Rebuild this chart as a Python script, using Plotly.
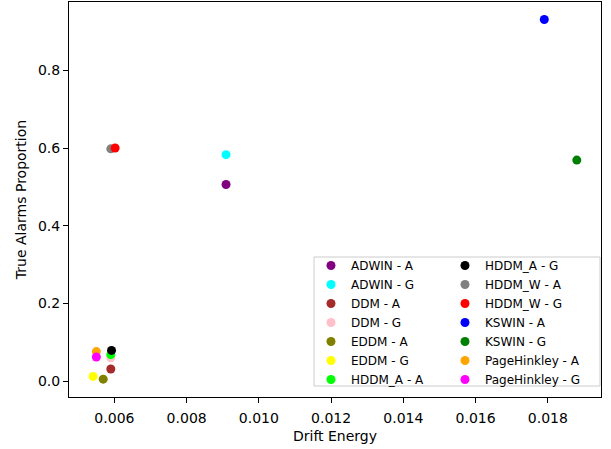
import plotly.graph_objects as go

labels = ["ADWIN - A", "ADWIN - G", "DDM - A", "DDM - G", "EDDM - A", "EDDM - G",
          "HDDM_A - A", "HDDM_A - G", "HDDM_W - A", "HDDM_W - G", "KSWIN - A",
          "KSWIN - G", "PageHinkley - A", "PageHinkley - G"]
drift_energy = [0.00909, 0.00909, 0.00590, 0.00590, 0.00569, 0.00541,
                0.00590, 0.00592, 0.00590, 0.00602, 0.01790,
                0.01880, 0.00550, 0.00550]
true_alarms = [0.506, 0.583, 0.031, 0.060, 0.005, 0.012,
               0.068, 0.079, 0.598, 0.600, 0.931,
               0.569, 0.076, 0.062]
colors = ["#800080", "#00FFFF", "#A52A2A", "#FFC0CB", "#808000", "#FFFF00",
          "#00FF00", "#000000", "#808080", "#FF0000", "#0000FF",
          "#008000", "#FFA500", "#FF00FF"]
x_ticks = [0.006, 0.008, 0.010, 0.012, 0.014, 0.016, 0.018]
y_ticks = [0.0, 0.2, 0.4, 0.6, 0.8]

FONT = "DejaVu Sans"
fig = go.Figure()
for i, (lab, xv, yv, c) in enumerate(zip(labels, drift_energy, true_alarms, colors)):
    fig.add_trace(go.Scatter(
        x=[xv], y=[yv], mode="markers", name=lab,
        marker=dict(color=c, size=9, line=dict(width=0)),
        legend="legend" if i < 7 else "legend2",
    ))

W, H = 611, 449
L, R, T, B = 69, 10, 2, 52
pw, ph = W - L - R, H - T - B

def px_x(p):
    return (p - L) / pw

def px_y(p):
    return (H - B - p) / ph

legend_common = dict(
    bgcolor="rgba(0,0,0,0)", borderwidth=0,
    font=dict(family=FONT, size=12, color="black"),
    xanchor="left", yanchor="top", tracegroupgap=0,
    itemclick=False, itemdoubleclick=False,
)

fig.update_layout(
    width=W, height=H,
    margin=dict(l=L, r=R, t=T, b=B, autoexpand=False),
    paper_bgcolor="white", plot_bgcolor="white",
    font=dict(family=FONT, size=14, color="black"),
    showlegend=True,
    legend=dict(x=px_x(311), y=px_y(251), **legend_common),
    legend2=dict(x=px_x(445), y=px_y(251), **legend_common),
    xaxis=dict(
        range=[0.004743, 0.01947], tickvals=x_ticks,
        ticktext=[f"{v:.3f}" for v in x_ticks], automargin=False,
        showgrid=False, zeroline=False,
        showline=True, linecolor="black", linewidth=1, mirror=True,
        ticks="outside", ticklen=5, tickwidth=1, tickcolor="black",
        ticklabelstandoff=3,
        tickfont=dict(family=FONT, size=14, color="black"),
        title=dict(text="Drift Energy", standoff=6,
                   font=dict(family=FONT, size=14, color="black")),
    ),
    yaxis=dict(
        range=[-0.041, 0.976], tickvals=y_ticks,
        ticktext=[f"{v:.1f}" for v in y_ticks], automargin=False,
        showgrid=False, zeroline=False,
        showline=True, linecolor="black", linewidth=1, mirror=True,
        ticks="outside", ticklen=5, tickwidth=1, tickcolor="black",
        tickfont=dict(family=FONT, size=14, color="black"),
        title=dict(text="True Alarms Proportion", standoff=8,
                   font=dict(family=FONT, size=14, color="black")),
    ),
    shapes=[dict(
        type="rect", xref="paper", yref="paper",
        x0=px_x(314), x1=px_x(600), y0=px_y(386), y1=px_y(257),
        line=dict(color="#cccccc", width=1), fillcolor="white", layer="below",
    )],
)

fig.write_html("out.html", config={"displayModeBar": False},
               post_script="document.body.style.margin='0';document.body.style.padding='0';")
